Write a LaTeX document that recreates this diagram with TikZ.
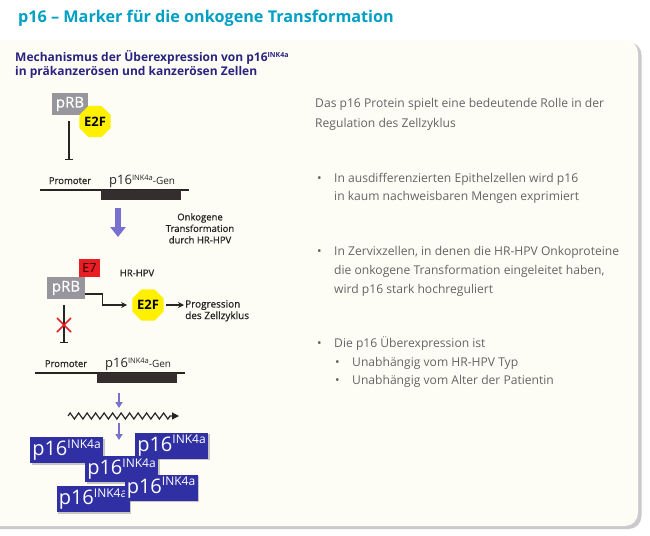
\documentclass[tikz,border=0pt]{standalone}
\usepackage{fontspec}
\setmainfont{Open Sans}
\newfontfamily\semib[FakeBold=0.7]{Open Sans}
\usetikzlibrary{shapes.geometric,arrows.meta,decorations.pathmorphing,shadows,calc}
\definecolor{ttl}{RGB}{0,160,196}
\definecolor{subc}{RGB}{42,36,128}
\definecolor{panelc}{RGB}{253,253,245}
\definecolor{shadc}{RGB}{205,200,205}
\definecolor{prbc}{RGB}{150,150,156}
\definecolor{yelc}{RGB}{255,240,0}
\definecolor{redc}{RGB}{232,30,36}
\definecolor{bluec}{RGB}{48,48,164}
\definecolor{lavc}{RGB}{120,112,206}
\definecolor{txtc}{RGB}{100,100,100}
\definecolor{darkc}{RGB}{40,36,36}
\definecolor{genec}{RGB}{52,46,46}
\newcommand{\psix}{{\fontsize{20}{20}\selectfont p16}\raisebox{7.5pt}{\fontsize{12}{12}\selectfont INK4a}}
\newcommand{\genelabel}{{\fontsize{13}{13}\selectfont p16}\raisebox{4pt}{\fontsize{7.5}{7.5}\selectfont INK4a}{\fontsize{10}{10}\selectfont -Gen}}
\begin{document}
\begin{tikzpicture}[x=1pt,y=-1pt,
 graybox/.style={fill=prbc,text=white,inner sep=0pt,font=\semib\fontsize{15}{15}\selectfont},
 octa/.style={regular polygon,regular polygon sides=8,fill=yelc,minimum size=34pt,inner sep=0pt,text=black,font=\bfseries\fontsize{13}{13}\selectfont},
 e7box/.style={fill=redc,inner sep=0pt,minimum width=21pt,minimum height=18pt,text=black!85!red,font=\fontsize{12.5}{12.5}\selectfont},
 lbl/.style={inner sep=0pt,text=darkc,font=\semib\fontsize{9.5}{11.5}\selectfont},
 inh/.style={line width=1.3pt,darkc,-{Bar[width=8pt]}},
 arr/.style={line width=1.3pt,darkc,-{Stealth[length=6pt,width=6pt]}},
 bigarrow/.style={line width=6pt,lavc,-{Triangle[width=15pt,length=10pt]}},
 smallarrow/.style={line width=2.2pt,lavc,-{Triangle[width=7pt,length=6pt]}},
 p16box/.style={fill=bluec,text=white,inner sep=0pt,minimum width=73pt,minimum height=26pt,drop shadow={shadow xshift=1.5pt,shadow yshift=-1.5pt,opacity=0.3,fill=black!70}},
 bodytxt/.style={anchor=base west,inner sep=0pt,text=txtc,font=\fontsize{12.1}{12.1}\selectfont},
 genebar/.style={fill=genec},
]
\useasboundingbox (0,0) rectangle (650,535);
\fill[white] (0,0) rectangle (650,535);
\fill[shadc,rounded corners=13pt] (-30,42) rectangle (641.5,529);
\fill[panelc,rounded corners=13pt] (-30,40) rectangle (638,526);

% titles
\node[anchor=base west,inner sep=0pt,text=ttl,font=\bfseries\fontsize{16.2}{16.2}\selectfont] (title) at (18,23) {p16 – Marker für die onkogene Transformation};
\node[anchor=base west,inner sep=0pt,text=subc,font=\bfseries\fontsize{12}{12}\selectfont] (sub1) at (15,61) {Mechanismus der Überexpression von p16\raisebox{4pt}{\fontsize{7}{7}\selectfont INK4a}};
\node[anchor=base west,inner sep=0pt,text=subc,font=\bfseries\fontsize{12}{12}\selectfont] (sub2) at (15,75) {in präkanzerösen und kanzerösen Zellen};

% first state
\node[graybox,minimum width=36pt,minimum height=22pt] (prb1) at (70,104) {pRB};
\node[octa] (e2f1) at (95,121.5) {E2F};
\coordinate (stop1) at (69,160);
\draw[inh] ($(prb1.south)+(-1,6)$) -- (stop1);
\node[lbl,anchor=base] (prom1) at (70,184) {Promoter};
\node[inner sep=0pt,anchor=base west,text=darkc] (gene1) at (109,184) {\genelabel};
\coordinate (l1a) at (40,190); \coordinate (l1b) at (189,190);
\draw[line width=1.1pt,darkc] (l1a) -- (l1b);
\fill[genebar] (101,190) rectangle (181,200);

% transformation
\coordinate (ba1) at (118,208); \coordinate (ba2) at (118,237);
\draw[bigarrow] (ba1) -- (ba2);
\node[lbl,align=center,anchor=north] (onk) at (200,213) {Onkogene\\Transformation\\durch HR-HPV};

% second state
\node[graybox,minimum width=38pt,minimum height=22pt] (prb2) at (66,288) {pRB};
\node[e7box] (e7) at (89.5,268) {E7};
\node[lbl] (hrhpv) at (137,273) {HR-HPV};
\node[octa] (e2f2) at (148,305) {E2F};
\draw[arr] ([yshift=-6pt]prb2.east) -- ++(17,0) |- ([xshift=-5pt]e2f2.west);
\node[lbl,anchor=north west,align=left,font=\semib\fontsize{10}{11.5}\selectfont] (prog) at (185,300) {Progression\\des Zellzyklus};
\draw[arr] ([xshift=2pt]e2f2.east) -- ([xshift=-1pt]e2f2.east -| prog.west);
\coordinate (stop2) at (64,343);
\draw[inh] ($(prb2.south)+(-2,6)$) -- (stop2);
\draw[redc,line width=1.6pt] (57,318) -- (71,332) (57,332) -- (71,318);
\node[lbl,anchor=base] (prom2) at (66,367) {Promoter};
\node[inner sep=0pt,anchor=base west,text=darkc] (gene2) at (105,367) {\genelabel};
\coordinate (l2a) at (35,373); \coordinate (l2b) at (185,373);
\draw[line width=1.1pt,darkc] (l2a) -- (l2b);
\fill[genebar] (97,373) rectangle (177,383);

% expression
\coordinate (sa1) at (119,393); \coordinate (sa2) at (119,408);
\draw[smallarrow] (sa1) -- (sa2);
\coordinate (zz1) at (68,416); \coordinate (zz2) at (179,416);
\draw[darkc,line width=1.2pt,decorate,decoration={zigzag,segment length=8.5pt,amplitude=3pt,post length=6pt},-{Triangle[width=7pt,length=7pt]}] (zz1) -- (zz2);
\coordinate (sa3) at (119,423); \coordinate (sa4) at (119,440);
\draw[smallarrow] (sa3) -- (sa4);

\node[p16box] (b1) at (66.5,450) {\psix};
\node[p16box] (b2) at (171.5,445.5) {\psix};
\node[p16box] (b3) at (121.5,469) {\psix};
\node[p16box] (b4) at (93,499) {\psix};
\node[p16box] (b5) at (161,487.5) {\psix};

% right column
\node[bodytxt] (t1) at (315,107) {Das p16 Protein spielt eine bedeutende Rolle in der};
\node[bodytxt] (t2) at (315,127) {Regulation des Zellzyklus};
\node[bodytxt] (d1) at (317,182) {\textbullet};
\node[bodytxt] (t3) at (334,182) {In ausdifferenzierten Epithelzellen wird p16};
\node[bodytxt] (t4) at (334,200) {in kaum nachweisbaren Mengen exprimiert};
\node[bodytxt] (d2) at (317,255) {\textbullet};
\node[bodytxt] (t5) at (334,255) {In Zervixzellen, in denen die HR-HPV Onkoproteine};
\node[bodytxt] (t6) at (334,274) {die onkogene Transformation eingeleitet haben,};
\node[bodytxt] (t7) at (334,293) {wird p16 stark hochreguliert};
\node[bodytxt] (d3) at (317,347) {\textbullet};
\node[bodytxt] (t8) at (334,347) {Die p16 Überexpression ist};
\node[bodytxt] (d4) at (335,366) {\textbullet};
\node[bodytxt] (t9) at (352,366) {Unabhängig vom HR-HPV Typ};
\node[bodytxt] (d5) at (335,384) {\textbullet};
\node[bodytxt] (t10) at (352,384) {Unabhängig vom Alter der Patientin};
\end{tikzpicture}
\end{document}
